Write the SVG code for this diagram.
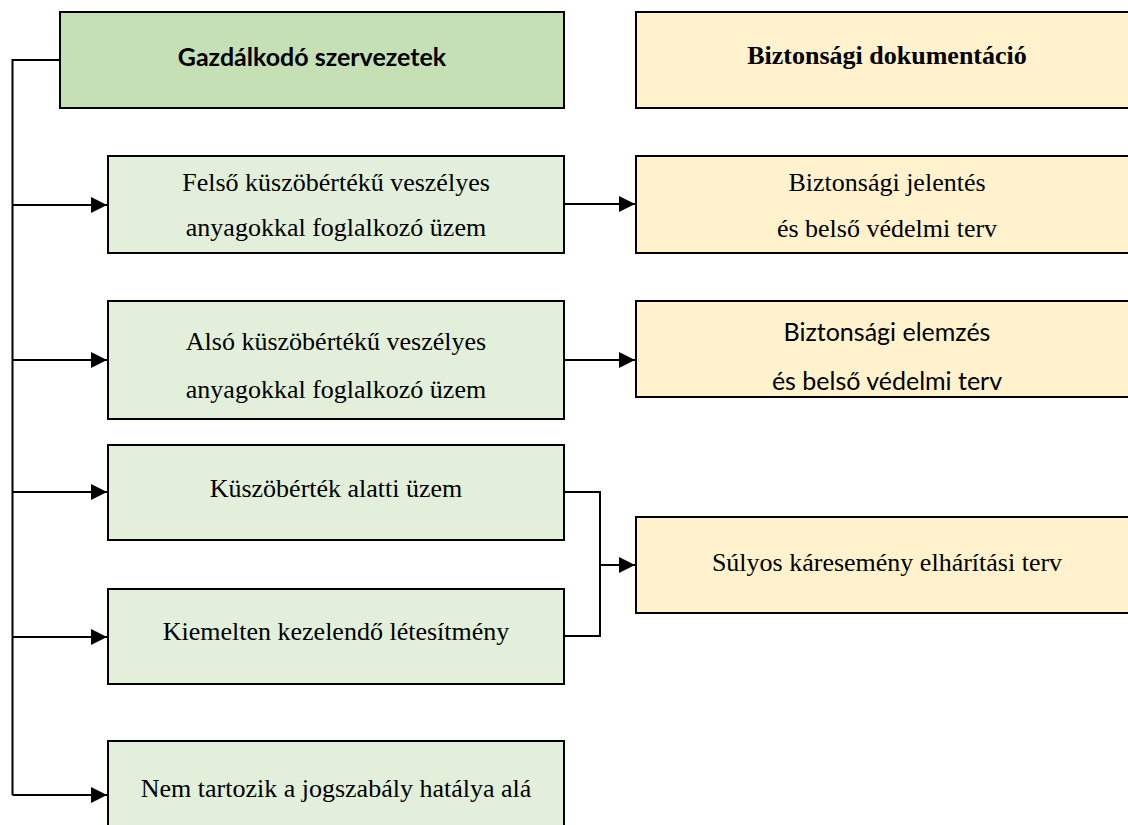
<svg xmlns="http://www.w3.org/2000/svg" width="1128" height="825" viewBox="0 0 1128 825">
<defs>
<marker id="ah" markerUnits="userSpaceOnUse" markerWidth="17" markerHeight="17" refX="16" refY="8.5" orient="auto">
<path d="M0,0.5 L16,8.5 L0,16.5 Z" fill="#000"/>
</marker>
<style>
.hg{fill:#C5E0B4;stroke:#000;stroke-width:2}
.g{fill:#E2EFDA;stroke:#000;stroke-width:2}
.y{fill:#FFF2CC;stroke:#000;stroke-width:2}
.t{font-family:"Liberation Serif","Times New Roman",serif;font-size:26px;fill:#000;text-anchor:middle}
.tb{font-family:"Liberation Serif","Times New Roman",serif;font-size:26px;font-weight:bold;fill:#000;text-anchor:middle}
.s{font-family:Lato,"Open Sans",sans-serif;font-size:25px;fill:#000;text-anchor:middle}
.sb{font-family:Lato,"Open Sans",sans-serif;font-size:25px;font-weight:bold;fill:#000;text-anchor:middle}
.c{fill:none;stroke:#000;stroke-width:2}
</style>
</defs>
<g id="connectors">
<path class="c" d="M60,60 H12.5 V795"/>
<path class="c" d="M12.5,205 H107" marker-end="url(#ah)"/>
<path class="c" d="M12.5,360 H107" marker-end="url(#ah)"/>
<path class="c" d="M12.5,492 H107" marker-end="url(#ah)"/>
<path class="c" d="M12.5,637 H107" marker-end="url(#ah)"/>
<path class="c" d="M12.5,795 H107" marker-end="url(#ah)"/>
<path class="c" d="M564,204 H635" marker-end="url(#ah)"/>
<path class="c" d="M564,360 H635" marker-end="url(#ah)"/>
<path class="c" d="M564,492 H600 V636 H564"/>
<path class="c" d="M600,565 H635" marker-end="url(#ah)"/>
</g>
<g id="header-gazdalkodo">
<rect class="hg" x="60" y="12" width="504" height="96"/>
<text class="sb" x="312" y="66">Gazdálkodó szervezetek</text>
</g>
<g id="header-biztonsagi">
<rect class="y" x="636" y="12" width="502" height="96"/>
<text class="tb" x="887" y="64">Biztonsági dokumentáció</text>
</g>
<g id="felso">
<rect class="g" x="108" y="156" width="456" height="97"/>
<text class="t" x="336" y="191">Felső küszöbértékű veszélyes</text>
<text class="t" x="336" y="236">anyagokkal foglalkozó üzem</text>
</g>
<g id="jelentes">
<rect class="y" x="636" y="156" width="502" height="97"/>
<text class="t" x="887" y="191">Biztonsági jelentés</text>
<text class="t" x="887" y="237">és belső védelmi terv</text>
</g>
<g id="also">
<rect class="g" x="108" y="301" width="456" height="118"/>
<text class="t" x="336" y="350">Alsó küszöbértékű veszélyes</text>
<text class="t" x="336" y="398">anyagokkal foglalkozó üzem</text>
</g>
<g id="elemzes">
<rect class="y" x="636" y="301" width="502" height="96"/>
<text class="s" x="887" y="341">Biztonsági elemzés</text>
<text class="s" x="887" y="390">és belső védelmi terv</text>
</g>
<g id="kuszobertek-alatti">
<rect class="g" x="108" y="445" width="456" height="95"/>
<text class="t" x="336" y="497">Küszöbérték alatti üzem</text>
</g>
<g id="kiemelten">
<rect class="g" x="108" y="589" width="456" height="95"/>
<text class="t" x="336" y="640">Kiemelten kezelendő létesítmény</text>
</g>
<g id="sulyos">
<rect class="y" x="636" y="517" width="502" height="96"/>
<text class="t" x="887" y="571">Súlyos káresemény elhárítási terv</text>
</g>
<g id="nem-tartozik">
<rect class="g" x="108" y="741" width="456" height="110"/>
<text class="t" x="336" y="797">Nem tartozik a jogszabály hatálya alá</text>
</g>
</svg>
